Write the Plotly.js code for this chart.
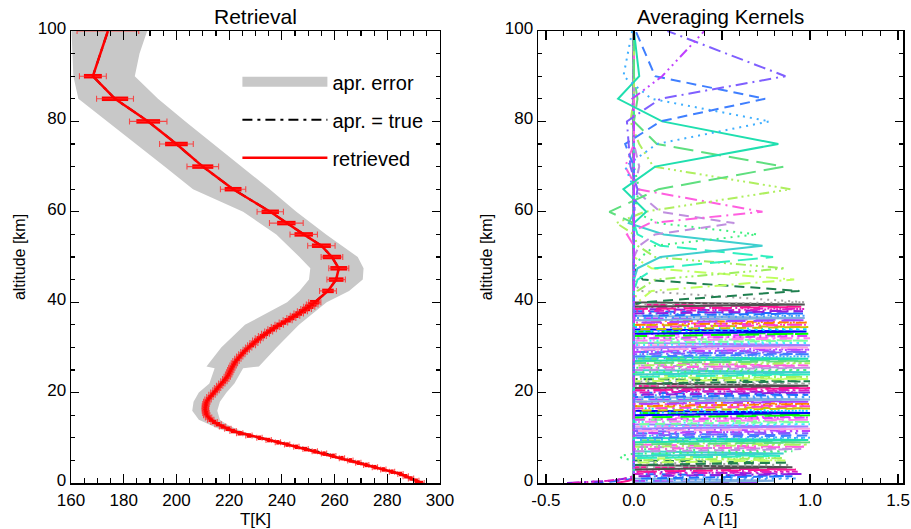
<!DOCTYPE html>
<html><head><meta charset="utf-8">
<script src="https://cdn.plot.ly/plotly-3.0.1.min.js"></script>
<style>html,body{margin:0;padding:0;background:#fff}#chart{width:911px;height:529px}</style>
</head><body><div id="chart"></div>
<script>
// ---------- retrieval grid (km) ----------
const altitude = [0,0.5,1,1.5,2,2.5,3,3.5,4,4.5,5,5.5,6,6.5,7,7.5,8,8.5,9,9.5,10,10.5,11,11.5,12,12.5,13,13.5,14,14.5,15,15.5,16,16.5,17,17.5,18,18.5,19,19.5,20,20.5,21,21.5,22,22.5,23,23.5,24,24.5,25,25.5,26,26.5,27,27.5,28,28.5,29,29.5,30,30.5,31,31.5,32,32.5,33,33.5,34,34.5,35,35.5,36,36.5,37,37.5,38,38.5,39,39.5,40,42.5,45,47.5,50,52.5,55,57.5,60,65,70,75,80,85,90,100];

// retrieved temperature (K)
const tRetrieved = [293,291,289,287,285,281.8,278.5,275.3,272,269,266,262.8,259.5,256,252.5,249,245.5,242,238.5,235,231.5,227.5,224,221.5,219.5,217.5,215.8,214.3,213,212.2,211.5,211.2,211,211,211,211.2,211.5,212,212.7,213.5,214.2,215,215.6,216.4,217.2,218,218.7,219.3,219.8,220.2,220.6,221,221.5,222,222.6,223.3,224,224.8,225.6,226.5,227.4,228.5,229.4,230.4,231.4,232.6,233.8,235,236.3,237.6,239,240.6,242.2,243.6,245,246.4,247.8,249.2,250.4,251.5,252.5,257.5,260.6,261.6,259,255,248.3,241.7,235.6,221.5,210,200,189.3,176.7,168.3,174];

// a priori = true temperature (K)
const tTrue = [293,291,289,287,285,281.8,278.5,275.3,272,269,266,262.8,259.5,256.8,253.3,249.8,246.3,242.8,239.2,235.4,231.7,227.5,224,221.5,219.5,217.5,215.8,214.3,213,212.2,211.5,211.2,211,211,211,211.2,211.5,212,212.7,213.5,214.2,215,215.6,216.4,217.2,218,218.7,219.3,219.8,220.2,220.6,221,221.5,222,222.6,223.3,224,224.8,225.6,226.5,227.4,228.5,229.4,230.4,231.4,232.6,233.8,235,236.3,237.6,239,240.6,242.2,243.6,245,246.4,247.8,249.2,250.4,251.5,252.5,257.5,260.6,261.6,259,255,248.3,241.7,235.6,221.5,210,200,189.3,176.7,168.3,174];

// total error (thin bars with caps) and noise error (thick bars), K
const errTotal = [1,1,1,1,1,1,1,1,1,1,1,1,1,1,1,1,1,1,1,1,1,
  1.2,1.2,1.2,1.2,1.2,1.2,1.2,1.2,1.2,1.2,1.2,1.2,1.2,1.2,1.2,1.2,1.2,1.2,1.2,1.2,1.2,1.2,1.2,1.2,1.2,1.2,1.2,1.2,1.2,1.2,1.2,1.2,1.2,1.2,1.2,1.2,1.2,1.2,1.2,1.2,
  1.5,1.5,1.5,1.5,1.5,1.5,1.5,1.6,1.6,1.6,1.6,1.7,1.7,1.8,1.8,1.9,2.0,2.1,2.2,2.3,
  3.2,3.5,3.8,4.1,5.2,5.2,6.4,5.0,4.8,6.0,6.4,7.1,7.0,5.1,11.7];
const errNoise = [0.6,0.6,0.6,0.6,0.6,0.6,0.6,0.6,0.6,0.6,0.6,0.6,0.6,0.6,0.6,0.6,0.6,0.6,0.6,0.6,0.6,
  0.8,0.8,0.8,0.8,0.8,0.8,0.8,0.8,0.8,0.8,0.8,0.8,0.8,0.8,0.8,0.8,0.8,0.8,0.8,0.8,0.8,0.8,0.8,0.8,0.8,0.8,0.8,0.8,0.8,0.8,0.8,0.8,0.8,0.8,0.8,0.8,0.8,0.8,0.8,0.8,
  1.0,1.0,1.0,1.0,1.0,1.0,1.0,1.1,1.1,1.1,1.1,1.2,1.2,1.3,1.3,1.4,1.5,1.6,1.7,1.8,
  2.2,2.8,3.2,3.5,3.6,3.5,3.5,3.3,3.2,4.0,4.3,4.5,5.0,3.4,0];

// a priori error envelope (K)
const bandAlt  = [0,2,4,6,8,10,11,12,13,14,16,18,20,22,25.4,25.8,30,35,40,42.5,45,47.5,50,55,60,65,70,75,80,85,90,95,100];
const bandLow  = [291.3,283.3,270.5,258,244,229.5,221.5,216,212,208.5,206,206.5,208.5,212.5,214.5,211.4,217,226,242,246.7,250.3,250.8,246.7,237.9,225.3,206.3,195.5,184.5,173.4,162.8,160.9,160.5,160.2];
const bandHigh = [294.5,286.5,273.5,261,247.5,233.5,227,222.5,219,216.5,215.5,216.5,219,222,225.3,231.3,238,246.5,257,265.5,270.7,271,268.8,256.8,245.5,235.4,224.5,214,203.4,193,184.2,186,188.9];

// ---------- averaging kernels ----------
// peak value of the kernels of the levels 0 ... 39.5 km (at their own level)
const kernelPeakLow = [0.70,0.80,0.93,0.90,0.96,0.93,0.92,0.90,0.89,0.88,0.86,0.85,0.83,0.85,0.90,0.95,0.98,0.99,
  1.0,0.99,1.0,1.0,0.99,1.0,1.0,0.99,1.0,1.0,1.0,0.99,1.0,1.0,0.99,1.0,1.0,1.0,0.99,1.0,1.0,0.99,1.0,1.0,1.0,0.99,1.0,1.0,0.99,1.0,1.0,1.0,0.99,1.0,0.99,1.0,1.0,0.99,1.0,1.0,0.99,1.0,0.99,1.0,0.99,0.99,1.0,0.99,0.99,0.98,0.99,0.99,0.98,0.99,
  0.98,0.97,0.97,0.96,0.96,0.97,0.95,0.97];
// side lobes of a few low kernels
const lobeKernelAlt = [1.5, 2.0, 2.5, 3.0, 7.0];
const lobeAlt = [[0,0.5],[0,0.5,1.0],[0,0.5,1.0],[0,0.5],[5.5,6.0]];
const lobeVal = [[-0.23,-0.08],[-0.38,-0.12,-0.05],[-0.35,-0.15,-0.05],[-0.10,-0.03],[-0.07,-0.08]];
// kernels of the upper levels, values at these levels
const upperLevels = [40,42.5,45,47.5,50,52.5,55,57.5,60,65,70,75,80,85,90,100];
const kernelUpper = [
  [0.97,0.03,0,0,0,0,0,0,0,0,0,0,0,0,0,0],
  [0.05,0.94,0.05,0,0,0,0,0,0,0,0,0,0,0,0,0],
  [0.02,0.10,0.91,0.10,0,0,0,0,0,0,0,0,0,0,0,0],
  [0,0.02,0.12,0.86,0.12,0.02,0,0,0,0,0,0,0,0,0,0],
  [0,0,0.02,0.12,0.79,0.15,0.02,0,0,0,0,0,0,0,0,0],
  [0,0,0,0.02,0.15,0.73,0.17,-0.03,0,0,0,0,0,0,0,0],
  [0,0,0,0,0.04,0.12,0.70,0.14,0,0.03,0,0,0,0,0,0],
  [0,0,0,0,0,0.03,0.12,0.57,0.15,0,0.03,0,0,0,0,0],
  [0,0,0,0,0,0,-0.04,0.09,0.73,0.02,-0.05,0,0,0,0,0],
  [0,0,0,0,0,0,0,-0.10,0.06,0.89,0.11,0.03,-0.02,0,0,0],
  [0,0,0,0,0,0,0,0,-0.14,0.14,0.85,0.13,0,0.02,0,0],
  [0,0,0,0,0,0,0,0,0.07,-0.06,0.12,0.82,0.16,-0.09,0.03,0],
  [0,0,0,0,0,0,0,0,0,0,-0.05,0.13,0.77,0.10,-0.06,-0.01],
  [0,0,0,0,0,0,0,0,0,0,0,-0.05,0.15,0.745,0.12,0.01],
  [0,0,0,0,0,0,0,0,0,0.02,-0.02,-0.03,-0.04,0.15,0.86,0.19],
  [0,0,0,0,0,0,0,0,0,0,0,0,0,-0.01,0.16,0.40]
];

// ---------- styles ----------
const kernelColors = ['#BF3FFF','#7F5FFF','#3F7FFF','#3FAFFF','#1FDFAF','#5FDF7F','#AFEF5F','#FF5FDF','#BF8FDF','#3FEF7F','#3FCFCF','#2FEFBF','#9FEF5F','#BFFF5F','#1F7F4F','#A0A0A0','#505050','#FF1493','#DF1FBF','#8F1FDF','#1F6FFF','#3F9FFF','#7FAFDF','#AF3FFF','#FF7F00','#FF3FCF','#CFBF00','#00DFFF','#0000FF','#00FF00','#DF3FFF','#FF7FEF','#7FFF9F','#3FEFFF','#9F7FFF','#FF9FDF'];
const kernelDashes = ['10px,4px,2px,4px,2px,4px,2px,4px','12px,5px,2px,5px','10px,6px','2px,5px','solid','20px,8px'];

const traces = [];
// a priori error band
traces.push({x: bandLow.concat(bandHigh.slice().reverse()), y: bandAlt.concat(bandAlt.slice().reverse()),
  type:'scatter', mode:'lines', fill:'toself', fillcolor:'#C8C8C8', line:{width:0, color:'#C8C8C8'},
  hoverinfo:'skip', showlegend:false, xaxis:'x', yaxis:'y'});
// legend entry for the band
traces.push({x:[null], y:[null], type:'scatter', mode:'lines', name:'apr. error', legendgroup:'a',
  line:{color:'#C8C8C8', width:14}, xaxis:'x', yaxis:'y'});
// a priori = true
traces.push({x: tTrue, y: altitude, type:'scatter', mode:'lines', name:'apr. = true', legendgroup:'b',
  line:{color:'#000000', width:2, dash:'10px,5px,3px,5px'}, xaxis:'x', yaxis:'y'});
// thick (noise) error bars
traces.push({x: tRetrieved, y: altitude, type:'scatter', mode:'markers', showlegend:false,
  marker:{size:1, color:'rgba(0,0,0,0)'},
  error_x:{type:'data', array: errNoise, visible:true, color:'#FF0000', thickness:4.5, width:0},
  xaxis:'x', yaxis:'y'});
// retrieved with total error bars
traces.push({x: tRetrieved, y: altitude, type:'scatter', mode:'lines', name:'retrieved', legendgroup:'c',
  line:{color:'#FF0000', width:2.5},
  error_x:{type:'data', array: errTotal, visible:true, color:'rgba(255,40,40,0.8)', thickness:1.1, width:3},
  xaxis:'x', yaxis:'y'});

// kernels
const nLev = altitude.length;
const kernelRows = [];
for (let k = 0; k < nLev; k++) {
  const row = new Array(nLev).fill(0);
  if (k < kernelPeakLow.length) {
    row[k] = kernelPeakLow[k];
    const li = lobeKernelAlt.indexOf(altitude[k]);
    if (li >= 0) lobeAlt[li].forEach((a, m) => { row[altitude.indexOf(a)] = lobeVal[li][m]; });
  } else {
    const u = k - kernelPeakLow.length;
    upperLevels.forEach((a, m) => { row[altitude.indexOf(a)] = kernelUpper[u][m]; });
  }
  kernelRows.push(row);
}
for (let k = 0; k < nLev; k++) {
  const j = nLev - 1 - k;
  traces.push({x: kernelRows[k], y: altitude, type:'scatter', mode:'lines', showlegend:false,
    line:{color: kernelColors[j % kernelColors.length], width:2, dash: kernelDashes[j % 6]},
    hoverinfo:'skip', xaxis:'x2', yaxis:'y2'});
}

const tickFont = {family:'Liberation Sans, Arial, sans-serif', size:17, color:'#000'};
const axisCommon = {showline:true, mirror:'ticks', linecolor:'#000', linewidth:1.5, ticks:'inside',
  tickcolor:'#000', tickwidth:1.2, showgrid:false, zeroline:false, tickfont: tickFont};

const layout = {
  width:911, height:529, margin:{l:71, r:8, t:31, b:46}, paper_bgcolor:'#fff', plot_bgcolor:'#fff',
  font:{family:'Liberation Sans, Arial, sans-serif', color:'#000'},
  showlegend:true,
  legend:{x:0.2, y:0.931, xanchor:'left', yanchor:'top', bgcolor:'rgba(0,0,0,0)', borderwidth:0,
    font:{size:20}, itemwidth:85, traceorder:'grouped', tracegroupgap:9},
  xaxis: Object.assign({}, axisCommon, {domain:[0,0.4435], range:[160,300], dtick:20, tick0:160, ticklen:9,
    ticklabelstandoff:1,
    minor:{dtick:5, tick0:160, ticklen:5, ticks:'inside', tickcolor:'#000', tickwidth:1.2},
    title:{text:'T[K]', font:{size:17}, standoff:4}, anchor:'y'}),
  yaxis: Object.assign({}, axisCommon, {domain:[0,1], range:[0,100], dtick:20, tick0:0, ticklen:8,
    ticklabelshift:-3,
    minor:{dtick:5, tick0:0, ticklen:4, ticks:'inside', tickcolor:'#000', tickwidth:1.2},
    title:{text:'altitude [km]', font:{size:16}, standoff:8}, anchor:'x'}),
  xaxis2: Object.assign({}, axisCommon, {domain:[0.5613,1], range:[-0.545,1.528], tickmode:'array',
    tickvals:[-0.5,0,0.5,1,1.5], ticktext:['-0.5','0.0','0.5','1.0','1.5'], ticklen:9,
    ticklabelstandoff:1,
    minor:{tickmode:'linear', dtick:0.1, tick0:0, ticklen:5, ticks:'inside', tickcolor:'#000', tickwidth:1.2},
    title:{text:'A [1]', font:{size:17}, standoff:4}, anchor:'y2'}),
  yaxis2: Object.assign({}, axisCommon, {domain:[0,1], range:[0,100], dtick:20, tick0:0, ticklen:8,
    ticklabelshift:-3,
    minor:{dtick:5, tick0:0, ticklen:4, ticks:'inside', tickcolor:'#000', tickwidth:1.2},
    title:{text:'altitude [km]', font:{size:16}, standoff:8}, anchor:'x2'}),
  annotations:[
    {text:'Retrieval', xref:'paper', yref:'paper', x:0.2218, y:1.033, xanchor:'center', yanchor:'middle', showarrow:false, font:{size:21}},
    {text:'Averaging Kernels', xref:'paper', yref:'paper', x:0.7807, y:1.033, xanchor:'center', yanchor:'middle', showarrow:false, font:{size:20.5}}
  ]
};

Plotly.newPlot('chart', traces, layout, {staticPlot:true, displayModeBar:false});
</script></body></html>
